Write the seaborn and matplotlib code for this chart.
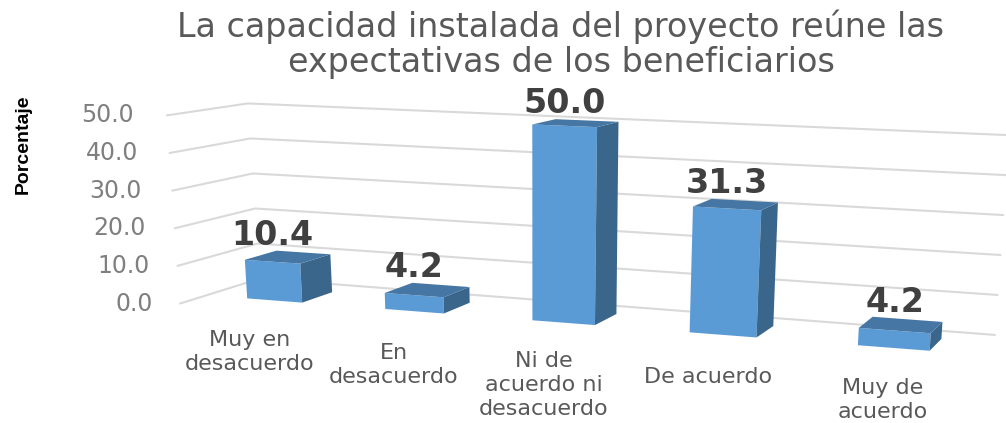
import numpy as np
import matplotlib
matplotlib.use("Agg")
import matplotlib.pyplot as plt
from matplotlib.transforms import Transform
import seaborn as sns

categorias = ["Muy en\ndesacuerdo", "En\ndesacuerdo", "Ni de\nacuerdo ni\ndesacuerdo", "De acuerdo", "Muy de\nacuerdo"]
valores = [10.4, 4.2, 50.0, 31.3, 4.2]
ticks_y = [0, 10, 20, 30, 40, 50]
titulo = "La capacidad instalada del proyecto reúne las\nexpectativas de los beneficiarios"

# colours of the three visible faces
FRENTE = "#5B9BD5"
LADO = "#3B668C"
TECHO = "#4676A3"
REJILLA = "#D9D9D9"

# camera: vanishing point of the depth lines and depth of each plane
VP = np.array([1335.0, -57.0])
F_BARRA = 0.029
F_PARED = 0.0475
F_FRENTE = -0.0234


def proyectar(x, v, f=0.0):
    # category position + value + depth -> pixel of the figure
    x = np.asarray(x, dtype=float)
    v = np.asarray(v, dtype=float)
    base = 135.5 * x / (1 - 0.0311 * x)
    px = 274.5 + base + v * (-0.2 + 0.11 * x)
    py = 300.5 + 0.0767 * base - (3.73 + 0.104 * x) * v
    return px + f * (VP[0] - px), py + f * (VP[1] - py)


class Perspectiva(Transform):
    input_dims = 2
    output_dims = 2

    def transform_non_affine(self, values):
        px, py = proyectar(values[:, 0], values[:, 1])
        return np.column_stack([px, py])


sns.set_theme(style="white")
plt.rcParams["font.family"] = ["DejaVu Sans"]

fig = plt.figure(figsize=(10.06, 4.23), dpi=100)
ax = fig.add_axes([0, 0, 1, 1])

sns.barplot(x=categorias, y=valores, color=FRENTE, saturation=1, width=0.406, ax=ax, zorder=3)

ax.set_xlim(0, 1006)
ax.set_ylim(423, 0)
ax.set_axis_off()

# bars live in the projected space
tr = Perspectiva() + ax.transData
for i, barra in enumerate(ax.patches):
    x0, x1 = barra.get_x(), barra.get_x() + barra.get_width()
    h = barra.get_height()
    barra.set_transform(tr)
    barra.set_linewidth(0)

    lado = [(x1, 0, 0), (x1, h, 0), (x1, h, F_BARRA), (x1, 0, F_BARRA)]
    techo = [(x0, h, 0), (x1, h, 0), (x1, h, F_BARRA), (x0, h, F_BARRA)]
    for cara, color in ((lado, LADO), (techo, TECHO)):
        px, py = zip(*[proyectar(*p) for p in cara])
        ax.fill(px, py, color=color, lw=0, zorder=3)

    # value above the top face
    lx, _ = proyectar((x0 + x1) / 2, h)
    _, ly = proyectar((x0 + x1) / 2, h, F_BARRA)
    ax.text(lx, ly - 17, f"{h:.1f}", ha="center", va="center", fontsize=24,
            fontweight="bold", color="#404040", zorder=4)

# walls and value ticks
for v in ticks_y:
    puntos = [(-0.51, v, F_FRENTE), (-0.51, v, F_PARED), (4.47, v, F_PARED)]
    px, py = zip(*[proyectar(*p) for p in puntos])
    ax.plot(px, py, color=REJILLA, lw=1.5, zorder=1)
    ax.text(px[0] - 27 - 0.12 * v, py[0], f"{v:.1f}", ha="right", va="center", fontsize=17, color="#7F7F7F")

# category labels sit on their own steps below the bars
etiqueta_x = [250, 394, 544, 708, 883]
etiqueta_y = [352, 365, 385, 377, 400]
for texto, lx, ly in zip(categorias, etiqueta_x, etiqueta_y):
    ax.text(lx, ly, texto, ha="center", va="center", fontsize=16, color="#595959", linespacing=1.27)

ax.text(561, 44, titulo, ha="center", va="center", fontsize=24, color="#595959", linespacing=1.07)
ax.text(23, 144, "Porcentaje", rotation=90, ha="center", va="center", fontsize=14,
        fontweight="bold", color="black", family=["Liberation Sans Narrow", "Liberation Sans"])

fig.savefig("out.png", dpi=100)
